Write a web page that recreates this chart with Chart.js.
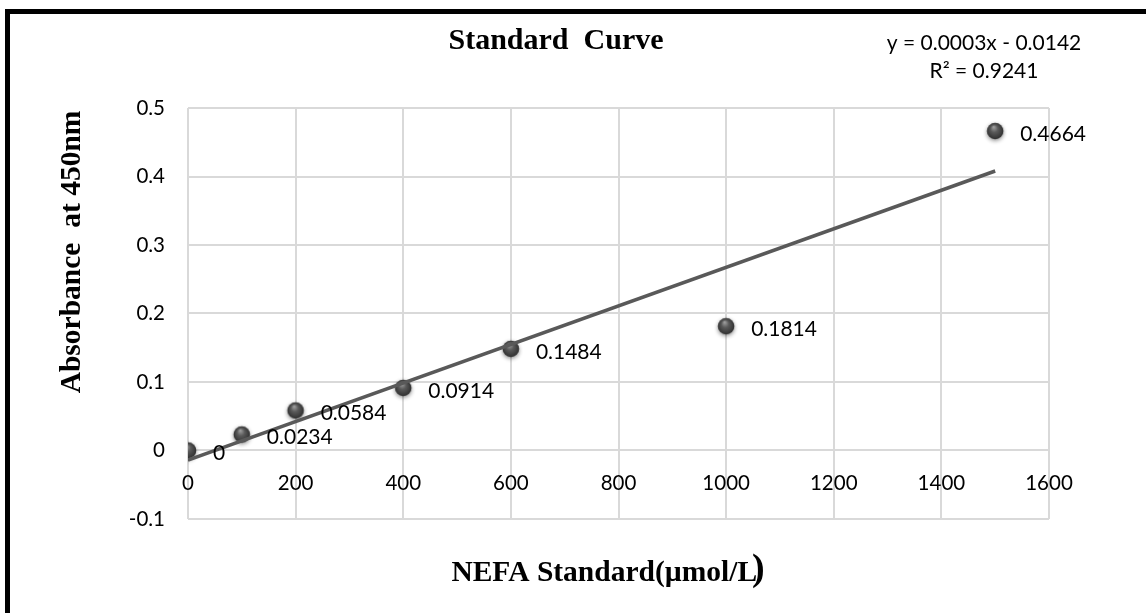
<!DOCTYPE html>
<html>
<head>
<meta charset="utf-8">
<script src="https://cdn.jsdelivr.net/npm/chart.js@4"></script>
<style>
  body { margin: 0; background: #fff; }
  canvas { display: block; }
</style>
</head>
<body>
<canvas id="chart" width="1146" height="613"></canvas>
<script>
// values
const concentration = [0, 100, 200, 400, 600, 1000, 1500]
const absorbance = [0, 0.0234, 0.0584, 0.0914, 0.1484, 0.1814, 0.4664]
// trendline ends, as drawn by the spreadsheet
const trendX = [0, 1500]
const trendY = [-0.0142, 0.408]
const xTicks = [0, 200, 400, 600, 800, 1000, 1200, 1400, 1600]
const yTicks = [-0.1, 0, 0.1, 0.2, 0.3, 0.4, 0.5]
const equationLines = ['y = 0.0003x - 0.0142', 'R² = 0.9241']

const gridColor = '#d9d9d9'
const labelFont = "Lato, 'Open Sans', sans-serif"
const serif = "'Liberation Serif', 'DejaVu Serif', serif"

// shaded grey ball used as the marker
const makeBall = () => {
  const size = 28
  const c = document.createElement('canvas')
  c.width = size
  c.height = size
  const g = c.getContext('2d')
  const mid = size / 2
  g.shadowColor = 'rgba(0,0,0,0.45)'
  g.shadowBlur = 4
  g.shadowOffsetY = 1.5
  const grad = g.createRadialGradient(mid - 1.5, mid - 4, 0.5, mid, mid, 8.5)
  grad.addColorStop(0, '#9c9c9c')
  grad.addColorStop(0.4, '#5a5a5a')
  grad.addColorStop(1, '#2e2e2e')
  g.fillStyle = grad
  g.beginPath()
  g.arc(mid, mid, 8.3, 0, Math.PI * 2)
  g.fill()
  return c
}
const ball = makeBall()

const frame = {
  id: 'frame',
  beforeDraw(chart) {
    const ctx = chart.ctx
    ctx.save()
    ctx.fillStyle = '#fff'
    ctx.fillRect(0, 0, chart.width, chart.height)
    ctx.fillStyle = '#000'
    ctx.fillRect(5, 9, 5, chart.height)
    ctx.fillRect(5, 9, chart.width, 5)
    ctx.restore()
  }
}

const texts = {
  id: 'texts',
  afterDatasetsDraw(chart) {
    const ctx = chart.ctx
    const meta = chart.getDatasetMeta(1)
    ctx.save()
    ctx.fillStyle = '#000'
    ctx.font = `21px ${labelFont}`
    ctx.textAlign = 'left'
    ctx.textBaseline = 'middle'
    meta.data.forEach((pt, i) => {
      ctx.fillText(String(absorbance[i]), pt.x + 25, pt.y + 3)
    })
    ctx.textAlign = 'center'
    ctx.fillText(equationLines[0], 984, 43)
    ctx.fillText(equationLines[1], 984, 71)

    ctx.font = `bold 30px ${serif}`
    ctx.fillText('Standard  Curve', 556, 41)

    const xt = 'NEFA Standard(µmol/L'
    ctx.font = `bold 29px ${serif}`
    const w1 = ctx.measureText(xt).width
    ctx.font = `bold 38px ${serif}`
    const w2 = ctx.measureText(')').width
    const x0 = 608 - (w1 + w2) / 2
    ctx.textAlign = 'left'
    ctx.font = `bold 29.5px ${serif}`
    ctx.fillText(xt, x0, 573)
    ctx.font = `bold 38px ${serif}`
    ctx.fillText(')', x0 + w1, 570)

    ctx.translate(72, 252)
    ctx.rotate(-Math.PI / 2)
    ctx.textAlign = 'center'
    ctx.font = `bold 29.5px ${serif}`
    ctx.fillText('Absorbance  at 450nm', 0, 0)
    ctx.restore()
  }
}

new Chart(document.getElementById('chart'), {
  type: 'scatter',
  data: {
    datasets: [
      {
        type: 'line',
        data: trendX.map((x, i) => ({x, y: trendY[i]})),
        borderColor: '#595959',
        borderWidth: 3.5,
        pointRadius: 0,
        order: 0
      },
      {
        data: concentration.map((x, i) => ({x, y: absorbance[i]})),
        pointStyle: ball,
        pointRadius: 9,
        order: 1
      }
    ]
  },
  options: {
    responsive: false,
    animation: false,
    layout: {padding: {left: 128, top: 108, right: 97, bottom: 94}},
    plugins: {
      legend: {display: false},
      tooltip: {enabled: false}
    },
    scales: {
      x: {
        type: 'linear',
        position: {y: 0},
        min: 0,
        max: 1600,
        afterBuildTicks: s => { s.ticks = xTicks.map(v => ({value: v})) },
        grid: {color: gridColor, lineWidth: 2, drawTicks: false},
        border: {display: false},
        ticks: {
          color: '#000',
          font: {family: labelFont, size: 20.5},
          padding: 21,
          maxRotation: 0,
          callback: v => String(v)
        }
      },
      y: {
        type: 'linear',
        min: -0.1,
        max: 0.5,
        afterBuildTicks: s => { s.ticks = yTicks.map(v => ({value: v})) },
        afterFit: s => { s.width = 60 },
        grid: {color: gridColor, lineWidth: 2, drawTicks: false},
        border: {display: false},
        ticks: {
          color: '#000',
          font: {family: labelFont, size: 20.5},
          padding: 23,
          callback: v => String(v)
        }
      }
    }
  },
  plugins: [frame, texts]
})
</script>
</body>
</html>
